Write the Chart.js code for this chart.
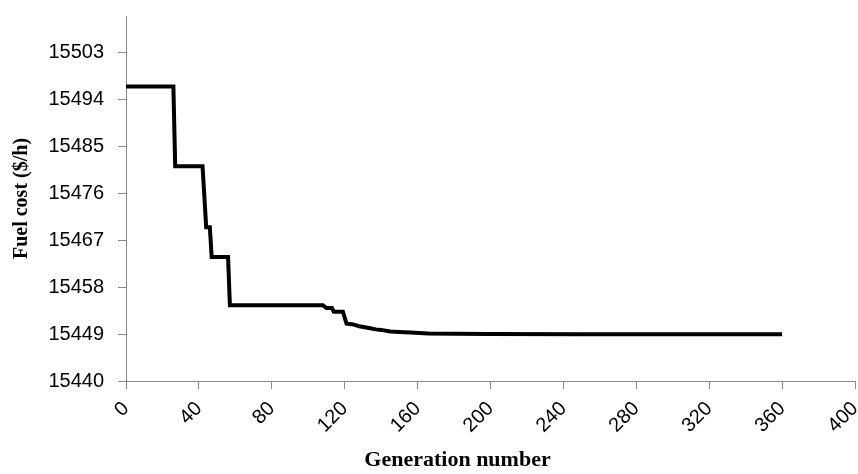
<!DOCTYPE html>
<html>
<head>
<meta charset="utf-8">
<script src="https://cdn.jsdelivr.net/npm/chart.js@4"></script>
<style>
  html, body { margin:0; padding:0; background:#fff; }
  #wrap { width:858px; height:474px; position:relative; }
</style>
</head>
<body>
<div id="wrap"><canvas id="chart"></canvas></div>
<script>
// Data
const generation = [0, 26, 27, 42, 44, 46, 47, 56, 57, 108, 110, 113, 114, 119, 121, 124, 128, 131, 134, 137, 140, 145, 150, 156, 166, 180, 200, 250, 360];
const fuelCost = [15496.5, 15496.5, 15481.2, 15481.2, 15469.5, 15469.5, 15463.8, 15463.8, 15454.55, 15454.55, 15454.0, 15454.0, 15453.3, 15453.3, 15451.0, 15450.9, 15450.5, 15450.3, 15450.1, 15449.9, 15449.8, 15449.5, 15449.4, 15449.3, 15449.1, 15449.05, 15449.0, 15448.95, 15448.95];
const xTicks = [0, 40, 80, 120, 160, 200, 240, 280, 320, 360, 400];
const yTicks = [15440, 15449, 15458, 15467, 15476, 15485, 15494, 15503];

const axisGray = '#898989';
const tickFont = { family: '"Liberation Sans", Arial, sans-serif', size: 20 };
const titleFont = { family: '"Liberation Serif", "Times New Roman", serif', size: 22, weight: 'bold' };

function init(){
  const ctx = document.getElementById('chart').getContext('2d');
  new Chart(ctx, {
    type: 'line',
    data: {
      datasets: [{
        data: generation.map((g, i) => ({ x: g, y: fuelCost[i] })),
        borderColor: '#000',
        borderWidth: 4,
        pointRadius: 0,
        tension: 0,
        fill: false
      }]
    },
    options: {
      responsive: true,
      maintainAspectRatio: false,
      animation: false,
      layout: { padding: { left: 7, right: 3, top: 16, bottom: 0 } },
      plugins: { legend: { display: false }, tooltip: { enabled: false } },
      scales: {
        x: {
          type: 'linear',
          min: 0, max: 400,
          afterBuildTicks: s => { s.ticks = xTicks.map(v => ({ value: v })); },
          // fixed box so the plot area lands where the original's does
          afterFit: s => { s.height = 474 - 381; s.paddingRight = 0; },
          grid: { display: true, drawOnChartArea: false, drawTicks: true, tickLength: 8, color: axisGray },
          border: { color: axisGray, width: 1 },
          ticks: { color: '#000', font: tickFont, minRotation: 45, maxRotation: 45, padding: 8, callback: v => String(v) },
          // trailing spaces nudge the title left like in the original
          title: { display: true, text: 'Generation number\u00a0\u00a0\u00a0\u00a0\u00a0\u00a0\u00a0\u00a0\u00a0\u00a0\u00a0\u00a0', color: '#000', font: titleFont, padding: { top: 0, bottom: 0 } }
        },
        y: {
          type: 'linear',
          min: 15440, max: 15510,
          afterBuildTicks: s => { s.ticks = yTicks.map(v => ({ value: v })); },
          afterFit: s => { s.width = 126 - 7; s.paddingTop = 0; },
          grid: { display: true, drawOnChartArea: false, drawTicks: true, tickLength: 8, color: axisGray },
          border: { color: axisGray, width: 1 },
          ticks: { color: '#000', font: tickFont, padding: 14, callback: v => String(v) },
          title: { display: true, text: 'Fuel cost ($/h)', color: '#000', font: { ...titleFont, size: 20 }, padding: { top: 3, bottom: 0 } }
        }
      }
    }
  });
}

window.addEventListener('load', init);
</script>
</body>
</html>
